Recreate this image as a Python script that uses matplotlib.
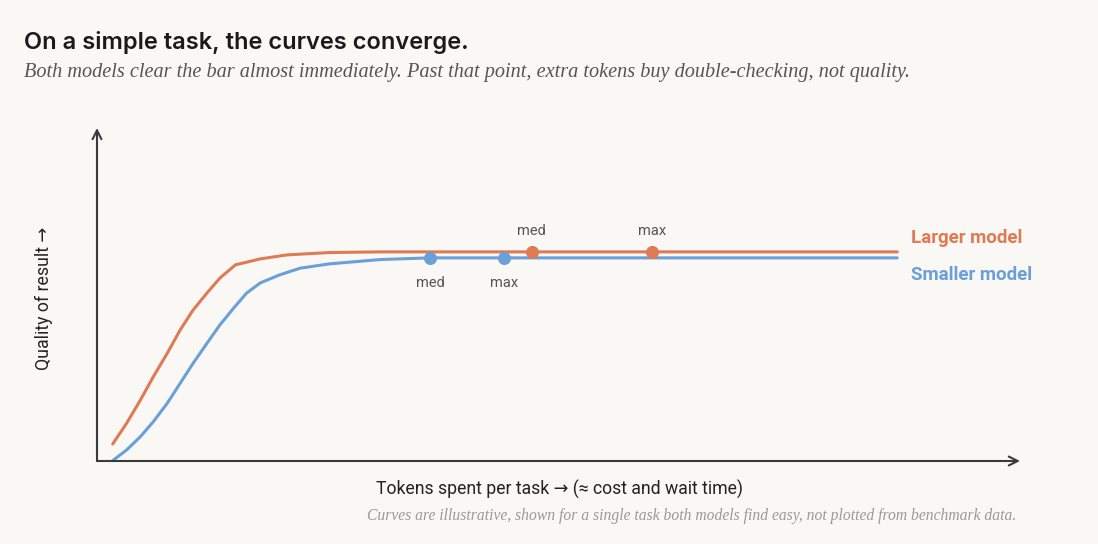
import matplotlib
matplotlib.use("Agg")
from matplotlib import pyplot as plt

# curve samples (tokens, quality)
larger_x = [0.17, 0.32, 0.47, 0.61, 0.76, 0.90, 1.04, 1.19, 1.33, 1.50, 1.77, 2.06, 2.52, 3.07, 4.0, 6.0, 8.67]
larger_y = [0.051, 0.113, 0.183, 0.253, 0.323, 0.393, 0.453, 0.504, 0.549, 0.589, 0.607, 0.619, 0.626, 0.628, 0.628, 0.628, 0.628]
smaller_x = [0.17, 0.32, 0.47, 0.61, 0.76, 0.90, 1.04, 1.19, 1.33, 1.48, 1.62, 1.77, 1.98, 2.20, 2.52, 3.07, 3.61, 5.0, 8.67]
smaller_y = [0.001, 0.033, 0.073, 0.118, 0.173, 0.233, 0.293, 0.353, 0.408, 0.459, 0.504, 0.535, 0.559, 0.579, 0.592, 0.605, 0.610, 0.610, 0.610]

larger_marks_x = [4.71, 6.01]
larger_marks_y = [0.628, 0.628]
smaller_marks_x = [3.61, 4.41]
smaller_marks_y = [0.610, 0.610]
mark_labels = ["med", "max"]

ORANGE = "#e07a55"
BLUE = "#6a9fd8"
BG = "#f9f8f5"
AXIS = "#3a3a3a"
SANS = ["Roboto", "DejaVu Sans"]

fig = plt.figure(figsize=(10.98, 5.44), dpi=100, facecolor=BG)
ax = fig.add_axes([97 / 1098, 83 / 544, 923 / 1098, 333 / 544])
ax.set_facecolor(BG)
ax.set_xlim(0, 10)
ax.set_ylim(0, 1)
for s in ax.spines.values():
    s.set_visible(False)
ax.set_xticks([])
ax.set_yticks([])

# axes drawn as arrows
ax.annotate("", xy=(10, 0), xytext=(0, 0), xycoords="data",
            arrowprops=dict(arrowstyle="->", color=AXIS, lw=1.5, shrinkA=0, shrinkB=0,
                            mutation_scale=16), annotation_clip=False)
ax.annotate("", xy=(0, 1), xytext=(0, 0), xycoords="data",
            arrowprops=dict(arrowstyle="->", color=AXIS, lw=1.5, shrinkA=0, shrinkB=0,
                            mutation_scale=16), annotation_clip=False)

ax.plot(larger_x, larger_y, color=ORANGE, lw=2.2, solid_capstyle="round",
        solid_joinstyle="round", clip_on=False)
ax.plot(smaller_x, smaller_y, color=BLUE, lw=2.2, solid_capstyle="round",
        solid_joinstyle="round", clip_on=False)
ax.scatter(larger_marks_x, larger_marks_y, s=70, color=ORANGE, zorder=3, clip_on=False)
ax.scatter(smaller_marks_x, smaller_marks_y, s=70, color=BLUE, zorder=3, clip_on=False)

for x, y, lab in zip(larger_marks_x, larger_marks_y, mark_labels):
    ax.annotate(lab, (x, y), xytext=(0, 10), textcoords="offset points",
                ha="center", va="bottom", fontsize=10.5, color="#555555", family=SANS)
for x, y, lab in zip(smaller_marks_x, smaller_marks_y, mark_labels):
    ax.annotate(lab, (x, y), xytext=(0, -13), textcoords="offset points",
                ha="center", va="top", fontsize=10.5, color="#555555", family=SANS)

ax.text(larger_x[-1] + 0.15, larger_y[-1] + 0.043, "Larger model", color=ORANGE,
        fontsize=13.5, fontweight="semibold", family=SANS, va="center")
ax.text(smaller_x[-1] + 0.15, smaller_y[-1] - 0.05, "Smaller model", color=BLUE,
        fontsize=13.5, fontweight="semibold", family=SANS, va="center")

fig.text(24 / 1098, 1 - 43 / 544, "On a simple task, the curves converge.",
         fontsize=17, fontweight="semibold", family="Inter", color="#1a1a1a", va="center")
fig.text(24 / 1098, 1 - 73 / 544,
         "Both models clear the bar almost immediately. Past that point, extra tokens buy double-checking, not quality.",
         fontsize=14.55, style="italic", family="Liberation Serif", color="#555555", va="center")

fig.text(44 / 1098, 1 - 298 / 544, "Quality of result \u2192", rotation=90,
         fontsize=12.8, family=SANS, color="#222222", ha="center", va="center")
fig.text(560 / 1098, 1 - 489 / 544, "Tokens spent per task \u2192 (\u2248 cost and wait time)",
         fontsize=12.7, family=SANS, color="#222222", ha="center", va="center")
fig.text(1016 / 1098, 1 - 516 / 544,
         "Curves are illustrative, shown for a single task both models find easy, not plotted from benchmark data.",
         fontsize=11.25, style="italic", family="Liberation Serif", color="#999999", ha="right", va="center")

fig.savefig("out.png", dpi=100, facecolor=BG)
